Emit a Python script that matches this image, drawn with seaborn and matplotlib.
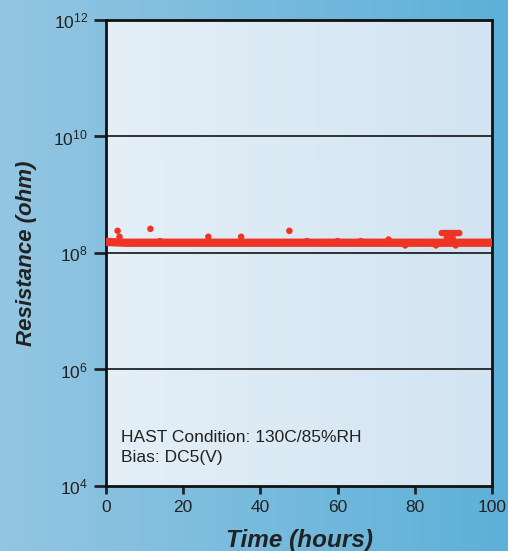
import numpy as np
import pandas as pd
import matplotlib
matplotlib.use('Agg')
import matplotlib.pyplot as plt
import seaborn as sns
from matplotlib.colors import LinearSegmentedColormap

# Baseline readings (read every 5 h from the chart)
base_time = [0, 5, 10, 15, 20, 25, 30, 35, 40, 45, 50, 55, 60, 65, 70, 75, 80, 85, 90, 95, 100]
base_res = [1.55e8, 1.5e8, 1.5e8, 1.5e8, 1.5e8, 1.5e8, 1.5e8, 1.5e8, 1.5e8, 1.5e8, 1.5e8,
            1.5e8, 1.5e8, 1.5e8, 1.5e8, 1.5e8, 1.5e8, 1.5e8, 1.5e8, 1.5e8, 1.5e8]

# Scattered readings off the baseline
spike_time = [3.0, 3.5, 11.5, 26.5, 35.0, 47.5, 73.2, 77.5, 85.5, 87.0, 87.5, 88.0, 88.5,
              89.0, 89.5, 90.0, 90.5, 91.0, 91.5, 88.3, 89.8, 90.6, 14.0, 52.0, 60.0, 66.0]
spike_res = [2.4e8, 1.9e8, 2.6e8, 1.9e8, 1.9e8, 2.4e8, 1.7e8, 1.35e8, 1.35e8, 2.2e8, 2.2e8,
             2.2e8, 2.2e8, 2.2e8, 2.2e8, 2.2e8, 2.2e8, 2.2e8, 2.2e8, 1.8e8, 1.8e8, 1.35e8,
             1.6e8, 1.6e8, 1.6e8, 1.6e8]

base = pd.DataFrame({'Time': base_time, 'Resistance': base_res})
spikes = pd.DataFrame({'Time': spike_time, 'Resistance': spike_res})

red = '#ee3425'
plt.rcParams['font.family'] = ['Liberation Sans', 'DejaVu Sans']
plt.rcParams['mathtext.fontset'] = 'custom'
plt.rcParams['mathtext.rm'] = 'Liberation Sans'
plt.rcParams['mathtext.default'] = 'rm'

fig = plt.figure(figsize=(5.08, 5.51), dpi=100)

# figure background gradient
bg = fig.add_axes([0, 0, 1, 1])
bg_cmap = LinearSegmentedColormap.from_list('bg', ['#93c6e2', '#5eb0d9'])
bg.imshow(np.linspace(0, 1, 256).reshape(1, -1), aspect='auto', cmap=bg_cmap,
          extent=[0, 1, 0, 1])
bg.axis('off')

ax = fig.add_axes([0.2087, 0.118, 0.7598, 0.8457])
ax.set_yscale('log')
ax.set_xlim(0, 100)
ax.set_ylim(1e4, 1e12)

# axes background gradient
ax_cmap = LinearSegmentedColormap.from_list('axbg', ['#e4eff8', '#d2e4f1'])
ax.imshow(np.linspace(0, 1, 256).reshape(1, -1), aspect='auto', cmap=ax_cmap,
          extent=[0, 100, 1e4, 1e12], zorder=0)
ax.set_aspect('auto')

for yv in [1e6, 1e8, 1e10]:
    ax.axhline(yv, color='black', lw=1.1, zorder=1)

sns.lineplot(data=base, x='Time', y='Resistance', ax=ax, color=red, lw=6,
             solid_capstyle='round', zorder=3)
sns.scatterplot(data=spikes, x='Time', y='Resistance', ax=ax, color=red, s=22,
                edgecolor='none', zorder=4)

ax.set_yticks([1e4, 1e6, 1e8, 1e10, 1e12])
ax.set_yticklabels([r'$10^{4}$', r'$10^{6}$', r'$10^{8}$', r'$10^{10}$', r'$10^{12}$'])
ax.minorticks_off()
ax.set_xticks([0, 20, 40, 60, 80, 100])
ax.tick_params(axis='y', direction='out', length=9, width=2, labelsize=12.5,
               colors='#222222', pad=4)
ax.tick_params(axis='x', direction='out', length=6, width=2, labelsize=12.5,
               colors='#222222', pad=4)
for s in ax.spines.values():
    s.set_linewidth(2)
    s.set_color('#111111')

ax.set_xlabel('Time (hours)', fontsize=17.5, fontweight='bold', fontstyle='italic',
              color='#222222', labelpad=10)
ax.set_ylabel('Resistance (ohm)', fontsize=16, fontweight='bold', fontstyle='italic',
              color='#222222', labelpad=12)

ax.text(0.04, 0.045, 'HAST Condition: 130C/85%RH\nBias: DC5(V)', transform=ax.transAxes,
        fontsize=12.5, color='#222222', va='bottom', ha='left', linespacing=1.45)

fig.savefig('out.png', dpi=100)
